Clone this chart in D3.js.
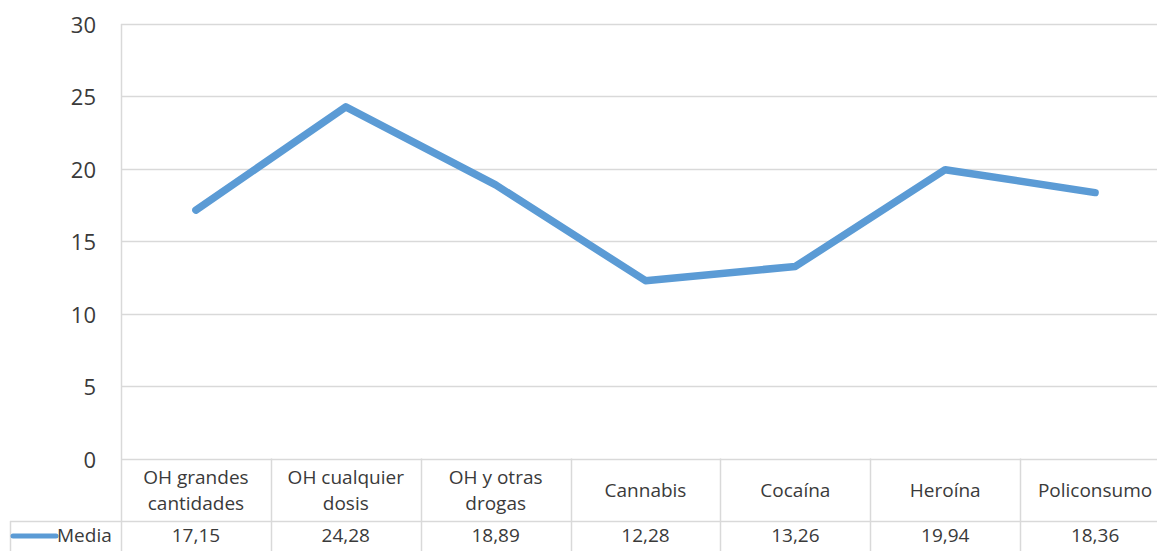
<!DOCTYPE html>
<html>
<head>
<meta charset="utf-8">
<script src="https://cdn.jsdelivr.net/npm/d3@7"></script>
<style>
  html, body { margin: 0; padding: 0; background: #fff; }
  svg { display: block; }
  text { font-family: "Open Sans", sans-serif; fill: #3a3a3a; }
</style>
</head>
<body>
<svg id="chart" width="1157" height="551"></svg>
<script>
const categories = [
  ["OH grandes", "cantidades"],
  ["OH cualquier", "dosis"],
  ["OH y otras", "drogas"],
  ["Cannabis"],
  ["Cocaína"],
  ["Heroína"],
  ["Policonsumo"]
];
const seriesName = "Media";
const values = [17.15, 24.28, 18.89, 12.28, 13.26, 19.94, 18.36];
const valueLabels = ["17,15", "24,28", "18,89", "12,28", "13,26", "19,94", "18,36"];
const yTicks = [0, 5, 10, 15, 20, 25, 30];

(function () {
const svg = d3.select("#chart");
const plotLeft = 121, plotRight = 1170, plotTop = 24, zeroY = 458.5;
const row1Bottom = 521, tableBottom = 560, tableLeft = 10;

const keys = categories.map((c, i) => i);
const x = d3.scaleBand().domain(keys).range([plotLeft, plotRight]).padding(0);
const y = d3.scaleLinear().domain([0, 30]).range([zeroY, plotTop]);

const gridColor = "#d9d9d9";

// gridlines
svg.append("g").selectAll("line").data(yTicks).join("line")
  .attr("x1", plotLeft).attr("x2", plotRight)
  .attr("y1", d => Math.round(y(d)) + 0.5).attr("y2", d => Math.round(y(d)) + 0.5)
  .attr("stroke", gridColor).attr("stroke-width", 1.5);

// left axis line
svg.append("line")
  .attr("x1", plotLeft + 0.5).attr("x2", plotLeft + 0.5)
  .attr("y1", y(30)).attr("y2", tableBottom)
  .attr("stroke", gridColor).attr("stroke-width", 1.5);

// y tick labels
svg.append("g").selectAll("text").data(yTicks).join("text")
  .attr("x", 96).attr("y", d => y(d))
  .attr("text-anchor", "end").attr("dominant-baseline", "central")
  .attr("font-size", 22)
  .text(d => d);

// table vertical lines
const bounds = keys.map(k => x(k)).concat([x(keys[keys.length - 1]) + x.bandwidth()]);
svg.append("g").selectAll("line").data(bounds.slice(1)).join("line")
  .attr("x1", d => Math.round(d) + 0.5).attr("x2", d => Math.round(d) + 0.5)
  .attr("y1", zeroY).attr("y2", tableBottom)
  .attr("stroke", gridColor).attr("stroke-width", 1.5);

// row separator
svg.append("line")
  .attr("x1", tableLeft).attr("x2", plotRight)
  .attr("y1", row1Bottom + 0.5).attr("y2", row1Bottom + 0.5)
  .attr("stroke", gridColor).attr("stroke-width", 1.5);
svg.append("line")
  .attr("x1", tableLeft + 0.5).attr("x2", tableLeft + 0.5)
  .attr("y1", row1Bottom).attr("y2", tableBottom)
  .attr("stroke", gridColor).attr("stroke-width", 1.5);

// category labels
const catG = svg.append("g").selectAll("text").data(categories).join("text")
  .attr("text-anchor", "middle").attr("font-size", 19)
  .attr("transform", (d, i) => `translate(${x(i) + x.bandwidth() / 2},0)`);
catG.each(function(d) {
  const t = d3.select(this);
  if (d.length === 2) {
    t.append("tspan").attr("x", 0).attr("y", 484).text(d[0]);
    t.append("tspan").attr("x", 0).attr("y", 510).text(d[1]);
  } else {
    t.append("tspan").attr("x", 0).attr("y", 497).text(d[0]);
  }
});

// value labels
svg.append("g").selectAll("text").data(valueLabels).join("text")
  .attr("x", (d, i) => x(i) + x.bandwidth() / 2).attr("y", 542)
  .attr("text-anchor", "middle").attr("font-size", 19)
  .text(d => d);

// legend key
const color = "#5b9bd5";
svg.append("line")
  .attr("x1", 13).attr("x2", 56).attr("y1", 536).attr("y2", 536)
  .attr("stroke", color).attr("stroke-width", 5).attr("stroke-linecap", "round");
svg.append("text").attr("x", 57).attr("y", 542).attr("font-size", 19).text(seriesName);

// line
const line = d3.line().x((d, i) => x(i) + x.bandwidth() / 2).y(d => y(d));
svg.append("path").datum(values)
  .attr("d", line)
  .attr("fill", "none").attr("stroke", color).attr("stroke-width", 7.5)
  .attr("stroke-linecap", "round").attr("stroke-linejoin", "round");
})();
</script>
</body>
</html>
